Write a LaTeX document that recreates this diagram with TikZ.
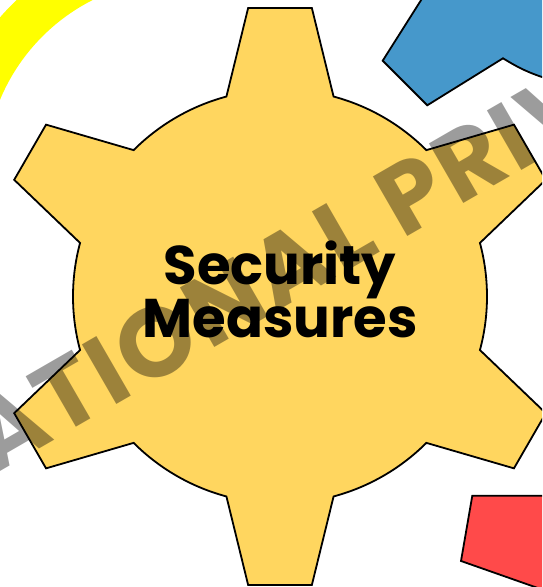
\documentclass[tikz,border=0pt]{standalone}
\usepackage{xcolor}
\usepackage{fontspec}
\usepackage{tikz}
\usetikzlibrary{calc}
\setmainfont{Poppins}
\newfontfamily\stampfont{Poppins}[LetterSpace=3.4]
\definecolor{ringyellow}{RGB}{255,255,0}
\definecolor{gearyellow}{HTML}{FFD65F}
\definecolor{gearblue}{HTML}{4698CB}
\definecolor{gearred}{HTML}{FF4A4A}

\begin{document}
\begin{tikzpicture}[
    x=1pt, y=1pt,
    gearpart/.style={draw=black, line width=1.8pt, line join=miter},
    ring/.style={draw=ringyellow, line width=44pt},
    title/.style={align=center, font=\fontsize{54.5}{51}\selectfont\bfseries, text=black},
    watermark/.style={rotate=30, anchor=base, font=\stampfont\fontsize{98}{98}\selectfont\bfseries, text=black, text opacity=0.39}
]

\useasboundingbox (0,0) rectangle (542,587);
\clip (0,0) rectangle (542,587);

% Neighbours
\draw [ring] (181,412) ++(110:218) arc[start angle=110, end angle=165, radius=218];
\draw [gearpart, fill=gearblue] (430,601) -- (382.7,526.3) -- (427.3,481.7) -- (503,528.7)
    to[bend right=7] (548,508) -- (560,601) -- cycle;
\draw [gearpart, fill=gearred] (472.3,91.3) -- (461,26) -- (552,-6) -- (560,91.3) -- cycle;

% Main gear
\coordinate (center) at (280,290.5);
\draw [gearpart, fill=gearyellow] ($(center)+(75:207)$)
    \foreach \a in {90,150,210,270,330,390} {
        -- ($(center)+(\a-15:207)$) -- ($(center)+(\a-6.3:290.3)$) -- ($(center)+(\a+6.3:290.3)$)
        -- ($(center)+(\a+15:207)$) arc[start angle=\a+15, end angle=\a+45, radius=207]
    } -- cycle;

% Text
\node (stamp) [watermark] at (300,288.5) {ATIONAL PRIV};
\node (label) [title] at (280,297.5) {Security\\Measures};

\end{tikzpicture}
\end{document}
